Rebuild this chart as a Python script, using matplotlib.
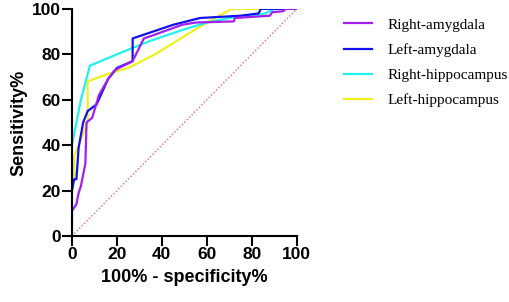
import numpy as np
import matplotlib.pyplot as plt

# ROC curves, values (x = 100% - specificity%, y = sensitivity%)
ra_x = [0, 0, 2, 3, 4, 6, 6.5, 9, 12, 16, 19, 27, 32, 35, 49, 55, 72, 72.5, 88, 89, 94, 95, 100]
ra_y = [0, 11, 14, 19, 22, 32, 50, 52, 62, 69, 73, 77, 87, 88, 93, 94, 94.5, 96, 97, 98.5, 99, 100, 100]

la_x = [0, 0, 0, 1, 2, 3, 5, 7, 11, 16, 20, 27, 27, 33, 45, 57, 75, 83, 84, 100]
la_y = [0, 12, 20, 25, 25, 39, 50, 55, 58, 69, 74, 77, 87, 89, 93, 96, 97, 98, 100, 100]

rh_x = [0, 0, 0, 4, 8, 20, 35, 50, 60, 70, 80, 86, 90, 100]
rh_y = [0, 20, 40, 60, 75, 80, 86, 91, 94, 96, 97, 98, 100, 100]

lh_x = [0, 0, 1, 1, 7, 7, 15, 25, 37, 50, 60, 71, 100]
lh_y = [0, 22, 26, 35, 50, 68, 71, 74, 80, 88, 94, 100, 100]

labels = ["Right-amygdala", "Left-amygdala", "Right-hippocampus", "Left-hippocampus"]
colors = ["#a020f0", "#1010f0", "#20f0f0", "#f0f020"]

fig = plt.figure(figsize=(5.1, 3.02), dpi=100)
ax = fig.add_axes([0.141, 0.2185, 0.441, 0.752])

ax.plot([0, 100], [0, 100], linestyle=(0, (1, 1.5)), color="#e86a6a", lw=1)
for xs, ys, lab, c in zip([ra_x, la_x, rh_x, lh_x][::-1], [ra_y, la_y, rh_y, lh_y][::-1],
                          labels[::-1], colors[::-1]):
    ax.plot(xs, ys, color=c, lw=1.6, label=lab)

ax.set_xlim(0, 100)
ax.set_ylim(0, 100)
ax.set_xticks(range(0, 101, 20))
ax.set_yticks(range(0, 101, 20))
ax.spines["top"].set_visible(False)
ax.spines["right"].set_visible(False)
for s in ["left", "bottom"]:
    ax.spines[s].set_linewidth(1.5)
ax.tick_params(width=1.5, length=7, pad=1, labelsize=12.5)
for t in ax.get_xticklabels() + ax.get_yticklabels():
    t.set_fontfamily("Liberation Sans")
    t.set_fontweight("bold")
ax.set_xlabel("100% - specificity%", fontsize=13, fontweight="bold",
              fontfamily="Liberation Sans", labelpad=5)
ax.set_ylabel("Sensitivity%", fontsize=13, fontweight="bold",
              fontfamily="Liberation Sans", labelpad=3)

handles, labs = ax.get_legend_handles_labels()
leg = ax.legend(handles[::-1], labs[::-1], loc="upper left", bbox_to_anchor=(1.15, 1.02),
                frameon=False, prop={"family": "Liberation Serif", "size": 11},
                handlelength=1.8, labelspacing=0.74, handletextpad=1.0)

fig.savefig("out.png", dpi=100)
